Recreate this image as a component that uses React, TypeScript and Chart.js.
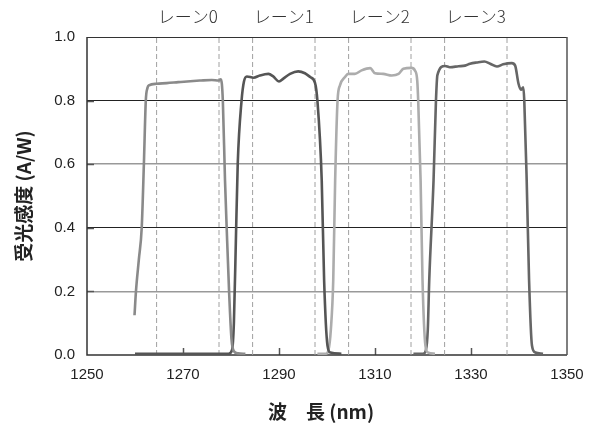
import { useEffect, useRef } from 'react';
import { Chart, registerables } from 'chart.js';

Chart.register(...registerables);

// ---- data ----
const X_MIN = 1250;
const X_MAX = 1350;
const X_STEP = 20;
const Y_MIN = 0;
const Y_MAX = 1;
const Y_STEP = 0.2;

const laneNames = ['レーン0', 'レーン1', 'レーン2', 'レーン3'];
const laneStart = [1264.5, 1284.5, 1304.5, 1324.5];
const laneEnd = [1277.5, 1297.5, 1317.5, 1337.5];

const lane0X = [1259.9, 1260.2, 1260.8, 1261.4, 1261.85, 1262.25, 1262.6, 1262.9, 1264.5, 1266.6, 1269.0, 1271.5, 1273.5, 1276.0, 1277.4, 1277.9, 1278.3, 1278.75, 1279.1, 1279.6, 1280.1, 1280.6, 1281.5, 1283.0];
const lane0Y = [0.125, 0.2, 0.3, 0.4, 0.6, 0.8, 0.84, 0.848, 0.853, 0.855, 0.858, 0.861, 0.863, 0.865, 0.863, 0.867, 0.8, 0.55, 0.4, 0.2, 0.05, 0.012, 0.005, 0.004];

const lane1X = [1260, 1279.5, 1280.2, 1280.6, 1281.0, 1281.4, 1282.2, 1282.7, 1283.3, 1284.7, 1286.0, 1287.8, 1288.8, 1290.0, 1290.9, 1292.3, 1294.0, 1295.4, 1296.5, 1297.5, 1298.0, 1298.9, 1299.4, 1300.1, 1300.7, 1303.0];
const lane1Y = [0.004, 0.004, 0.015, 0.1, 0.35, 0.6, 0.8, 0.86, 0.876, 0.872, 0.879, 0.884, 0.876, 0.86, 0.869, 0.884, 0.892, 0.886, 0.874, 0.856, 0.8, 0.55, 0.235, 0.03, 0.008, 0.004];

const lane2X = [1298.0, 1299.8, 1300.3, 1300.8, 1301.3, 1301.7, 1302.2, 1302.7, 1303.75, 1304.4, 1305.8, 1307.2, 1309.0, 1310.0, 1311.7, 1313.5, 1314.9, 1315.9, 1317.6, 1318.3, 1318.8, 1319.0, 1319.5, 1319.9, 1320.5, 1321.0, 1322.5];
const lane2Y = [0.004, 0.004, 0.015, 0.08, 0.235, 0.55, 0.8, 0.848, 0.874, 0.884, 0.884, 0.895, 0.902, 0.886, 0.884, 0.879, 0.884, 0.9, 0.903, 0.895, 0.863, 0.8, 0.55, 0.235, 0.03, 0.008, 0.004];

const lane3X = [1318.0, 1320.0, 1320.6, 1321.0, 1321.3, 1322.2, 1322.7, 1323.0, 1324.6, 1325.6, 1327.4, 1328.75, 1329.8, 1331.2, 1332.8, 1334.0, 1335.4, 1336.7, 1338.5, 1339.2, 1339.9, 1340.4, 1340.9, 1341.1, 1341.6, 1342.1, 1342.7, 1343.4, 1345.0];
const lane3Y = [0.004, 0.004, 0.015, 0.08, 0.235, 0.55, 0.8, 0.88, 0.909, 0.905, 0.908, 0.91, 0.916, 0.92, 0.923, 0.916, 0.907, 0.914, 0.918, 0.91, 0.853, 0.834, 0.842, 0.8, 0.55, 0.235, 0.03, 0.008, 0.004];

const laneColors = ['#8a8a8a', '#555555', '#acacac', '#666666'];

const X_TITLE = '波　長 (nm)';
const Y_TITLE = '受光感度 (A/W)';

const toPoints = (xs: number[], ys: number[]) => xs.map((x, i) => ({ x, y: ys[i] }));

const decorPlugin = {
  id: 'decor',
  beforeDatasetsDraw(chart: any) {
    const { ctx, chartArea, scales } = chart;
    const { left, top, right, bottom } = chartArea;
    const xs = scales.x;
    const ys = scales.y;
    ctx.save();
    // inner tick marks
    ctx.strokeStyle = '#555';
    ctx.lineWidth = 1.5;
    xs.ticks.forEach((t: any) => {
      if (t.value <= X_MIN || t.value >= X_MAX) return;
      const px = Math.round(xs.getPixelForValue(t.value)) + 0.5;
      ctx.beginPath();
      ctx.moveTo(px, bottom);
      ctx.lineTo(px, bottom - 7);
      ctx.stroke();
    });
    ys.ticks.forEach((t: any) => {
      if (t.value <= Y_MIN || t.value >= Y_MAX - 1e-9) return;
      const py = Math.round(ys.getPixelForValue(t.value)) + 0.5;
      ctx.beginPath();
      ctx.moveTo(left, py);
      ctx.lineTo(left + 7, py);
      ctx.stroke();
    });
    // frame
    ctx.strokeStyle = '#333';
    ctx.lineWidth = 1.5;
    ctx.beginPath();
    ctx.moveTo(left, top);
    ctx.lineTo(left, bottom);
    ctx.lineTo(right, bottom);
    ctx.stroke();
    ctx.lineWidth = 1;
    ctx.beginPath();
    ctx.moveTo(left, top + 0.5);
    ctx.lineTo(right, top + 0.5);
    ctx.stroke();
    ctx.strokeStyle = '#555';
    ctx.lineWidth = 1.5;
    ctx.beginPath();
    ctx.moveTo(right, top);
    ctx.lineTo(right, bottom);
    ctx.stroke();
    ctx.restore();
  },
  afterDraw(chart: any) {
    const { ctx, chartArea, scales } = chart;
    const xs = scales.x;
    ctx.save();
    // lane labels
    ctx.fillStyle = '#333';
    ctx.font = '300 17px "Noto Sans CJK JP", sans-serif';
    ctx.textAlign = 'center';
    ctx.textBaseline = 'middle';
    laneNames.forEach((name, i) => {
      const cx = (xs.getPixelForValue(laneStart[i]) + xs.getPixelForValue(laneEnd[i])) / 2;
      ctx.fillText(name, cx, 17);
    });
    // axis titles
    ctx.fillStyle = '#222';
    ctx.font = 'bold 19px "Noto Sans CJK JP", sans-serif';
    ctx.fillText(X_TITLE, (chartArea.left + chartArea.right) / 2 - 6, 412);
    ctx.translate(24, (chartArea.top + chartArea.bottom) / 2);
    ctx.rotate(-Math.PI / 2);
    ctx.fillText(Y_TITLE, 0, 0);
    ctx.restore();
  },
};

export default function App() {
  const canvasRef = useRef<HTMLCanvasElement | null>(null);

  useEffect(() => {
    if (!canvasRef.current) return;
    const laneSeries = [
      toPoints(lane0X, lane0Y),
      toPoints(lane1X, lane1Y),
      toPoints(lane2X, lane2Y),
      toPoints(lane3X, lane3Y),
    ];
    const boundaries = [...laneStart, ...laneEnd];
    const datasets: any[] = [];
    laneSeries.forEach((pts, i) => {
      datasets.push({
        label: laneNames[i],
        data: pts,
        borderColor: laneColors[i],
        borderWidth: 2.6,
        pointRadius: 0,
        fill: false,
        cubicInterpolationMode: 'monotone',
        order: 1,
      });
    });
    boundaries.forEach((b) => {
      datasets.push({
        label: 'boundary',
        data: [
          { x: b, y: Y_MIN },
          { x: b, y: Y_MAX },
        ],
        borderColor: '#a0a0a0',
        borderWidth: 1,
        borderDash: [5, 3],
        pointRadius: 0,
        fill: false,
        order: 2,
      });
    });

    const chart = new Chart(canvasRef.current, {
      type: 'line',
      data: { datasets },
      options: {
        responsive: false,
        animation: false,
        layout: { padding: { top: 37, right: 25, left: 0, bottom: 0 } },
        plugins: {
          legend: { display: false },
          tooltip: { enabled: false },
        },
        scales: {
          x: {
            type: 'linear',
            min: X_MIN,
            max: X_MAX,
            grid: { display: false },
            border: { display: false },
            ticks: {
              stepSize: X_STEP,
              color: '#222',
              padding: 3,
              maxRotation: 0,
              autoSkip: false,
              font: { family: '"Liberation Sans", Arial, sans-serif', size: 15 },
              callback: (v: any) => String(Math.round(Number(v))),
            },
            afterFit: (s: any) => {
              s.height = 70;
            },
          },
          y: {
            type: 'linear',
            min: Y_MIN,
            max: Y_MAX,
            border: { display: false },
            grid: {
              drawTicks: false,
              color: (c: any) => {
                const v = Math.round((c.tick?.value ?? 0) * 10);
                if (v === 0 || v === 10) return 'rgba(0,0,0,0)';
                return v % 4 === 0 ? '#222' : '#999';
              },
              lineWidth: (c: any) => {
                const v = Math.round((c.tick?.value ?? 0) * 10);
                return v % 4 === 0 ? 1 : 1.6;
              },
            },
            ticks: {
              stepSize: Y_STEP,
              color: '#222',
              padding: 12,
              font: { family: '"Liberation Sans", Arial, sans-serif', size: 15 },
              callback: (v: any) => Number(v).toFixed(1),
            },
            afterFit: (s: any) => {
              s.width = 87;
            },
          },
        },
      },
      plugins: [decorPlugin],
    });
    return () => chart.destroy();
  }, []);

  return (
    <div style={{ position: 'fixed', left: 0, top: 0, width: 592, height: 425, background: '#fff' }}>
      <canvas ref={canvasRef} width={592} height={425} style={{ width: 592, height: 425 }} />
    </div>
  );
}
